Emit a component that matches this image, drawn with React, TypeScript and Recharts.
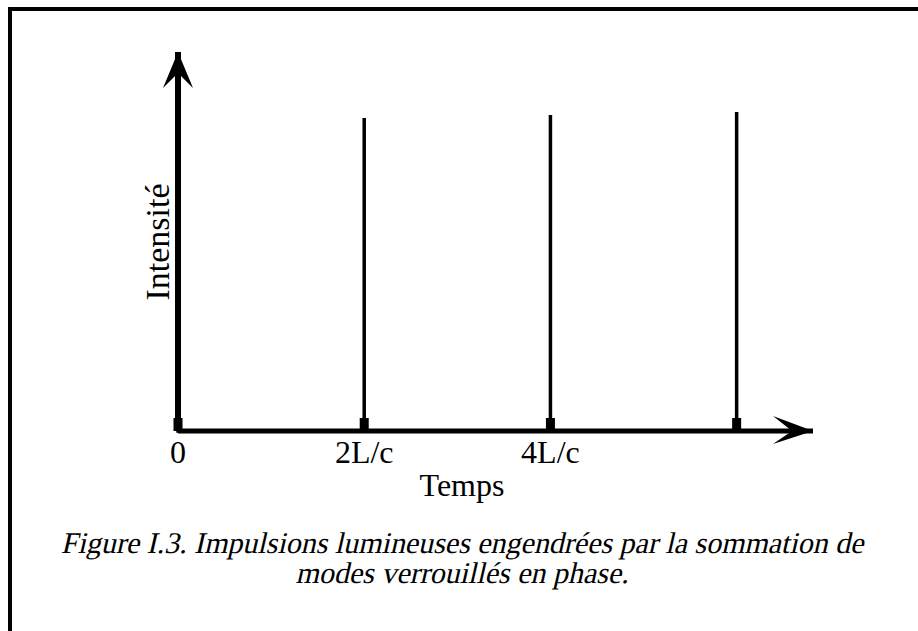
import React from 'react';
import { ComposedChart, Line, Scatter, XAxis, YAxis } from 'recharts';

// Pulse train: time in units of 2L/c, intensity relative to the axis height
const pulseTimes = [0, 1, 2, 3];
const pulseIntensities = [0.83, 0.826, 0.834, 0.842];
const tickValues = [0, 1, 2];
const tickLabels = ['0', '2L/c', '4L/c'];
const xLabel = 'Temps';
const yLabel = 'Intensité';
const captionLines = [
  'Figure I.3. Impulsions lumineuses engendrées par la sommation de',
  'modes verrouillés en phase.',
];
const xMax = 3.41;
const yMax = 1;

const pulseData = pulseTimes.flatMap((t, i) => [
  { t, I: 0 },
  { t, I: pulseIntensities[i] },
  { t, I: 0 },
]);
const baseData = pulseTimes.map((t) => ({ t, I: 0 }));
const xArrowData = [{ t: xMax, I: 0 }];
const yArrowData = [{ t: 0, I: yMax }];

const FONT = '"Liberation Serif", "Times New Roman", serif';

const Tick = (props: any) => {
  const { x, y, payload } = props;
  const idx = tickValues.indexOf(payload.value);
  return (
    <text x={x} y={y + 32} textAnchor="middle" fontFamily={FONT} fontSize={32} fill="#000">
      {idx >= 0 ? tickLabels[idx] : ''}
    </text>
  );
};

const BaseShape = (props: any) => {
  const { cx, cy } = props;
  return <rect x={cx - 4.5} y={cy - 13} width={9} height={13} fill="#000" />;
};

const RightArrow = (props: any) => {
  const { cx, cy } = props;
  return (
    <polygon
      points={`${cx},${cy} ${cx - 40},${cy - 15} ${cx - 21},${cy} ${cx - 40},${cy + 13}`}
      fill="#000"
    />
  );
};

const UpArrow = (props: any) => {
  const { cx, cy } = props;
  return (
    <polygon
      points={`${cx},${cy} ${cx + 15},${cy + 36} ${cx},${cy + 21} ${cx - 15},${cy + 36}`}
      fill="#000"
    />
  );
};

const XLabel = (props: any) => {
  const { viewBox } = props;
  return (
    <text x={viewBox.x + 284} y={viewBox.y + 65} textAnchor="middle" fontFamily={FONT} fontSize={32} fill="#000">
      {xLabel}
    </text>
  );
};

const YLabel = (props: any) => {
  const { viewBox } = props;
  const bx = viewBox.x + 27;
  const cy = viewBox.y + 190;
  return (
    <text
      x={bx}
      y={cy}
      transform={`rotate(-90, ${bx}, ${cy})`}
      textAnchor="middle"
      fontFamily={FONT}
      fontSize={34}
      fill="#000"
    >
      {yLabel}
    </text>
  );
};

const CaptionLine = ({ x, y, text }: { x: number; y: number; text: string }) => (
  <text
    x={0}
    y={0}
    transform={`translate(${x}, ${y}) skewX(-13)`}
    textAnchor="middle"
    fontFamily={FONT}
    fontSize={30}
    fill="#000"
  >
    {text}
  </text>
);

export default function App() {
  return (
    <div style={{ position: 'absolute', left: 0, top: 0, width: 918, height: 631, background: '#fff' }}>
      <svg width={918} height={631} style={{ position: 'absolute', left: 0, top: 0 }}>
        <rect x={8} y={7} width={910} height={4} fill="#000" />
        <rect x={8} y={7} width={4} height={624} fill="#000" />
        <CaptionLine x={462} y={553} text={captionLines[0]} />
        <CaptionLine x={462} y={583} text={captionLines[1]} />
      </svg>
      <div style={{ position: 'absolute', left: 0, top: 0 }}>
        <ComposedChart
          width={918}
          height={631}
          margin={{ top: 52, right: 105, bottom: 130, left: 142 }}
        >
          <XAxis
            type="number"
            dataKey="t"
            domain={[0, xMax]}
            ticks={tickValues}
            tick={<Tick />}
            tickLine={false}
            tickSize={0}
            tickMargin={0}
            axisLine={{ stroke: '#000', strokeWidth: 5 }}
            height={70}
            label={<XLabel />}
          />
          <YAxis
            type="number"
            dataKey="I"
            domain={[0, yMax]}
            tick={false}
            tickLine={false}
            axisLine={{ stroke: '#000', strokeWidth: 6 }}
            width={36}
            label={<YLabel />}
          />
          <Line
            data={pulseData}
            dataKey="I"
            type="linear"
            stroke="#000"
            strokeWidth={3.5}
            dot={false}
            activeDot={false}
            isAnimationActive={false}
          />
          <Scatter data={baseData} dataKey="I" shape={<BaseShape />} isAnimationActive={false} />
          <Scatter data={xArrowData} dataKey="I" shape={<RightArrow />} isAnimationActive={false} />
          <Scatter data={yArrowData} dataKey="I" shape={<UpArrow />} isAnimationActive={false} />
        </ComposedChart>
      </div>
    </div>
  );
}
